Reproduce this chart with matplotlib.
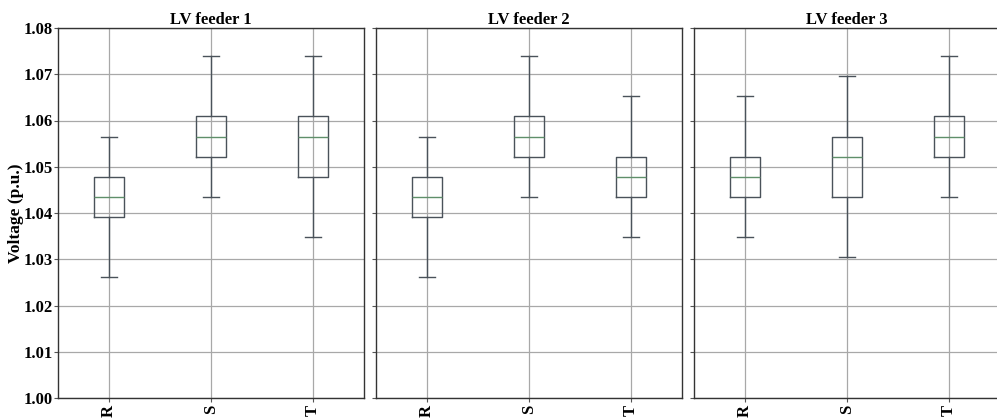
import matplotlib
matplotlib.use("Agg")
import matplotlib.pyplot as plt

plt.rcParams['font.family'] = ['Liberation Serif', 'DejaVu Serif']
plt.rcParams['font.weight'] = 'bold'

# Phase labels and per-feeder box statistics (p.u.)
phases = ["R", "S", "T"]
feeders = ["LV feeder 1", "LV feeder 2", "LV feeder 3"]

whis_low = [
    [1.0261, 1.0435, 1.0348],
    [1.0261, 1.0435, 1.0348],
    [1.0348, 1.03045, 1.0435],
]
q1 = [
    [1.03915, 1.0522, 1.0478],
    [1.03915, 1.0522, 1.0435],
    [1.0435, 1.0435, 1.0522],
]
median = [
    [1.0435, 1.0565, 1.0565],
    [1.0435, 1.0565, 1.0478],
    [1.0478, 1.0522, 1.0565],
]
q3 = [
    [1.0478, 1.0609, 1.0609],
    [1.0478, 1.0609, 1.0522],
    [1.0522, 1.0565, 1.0609],
]
whis_high = [
    [1.0565, 1.074, 1.074],
    [1.0565, 1.074, 1.06525],
    [1.06525, 1.0696, 1.074],
]

y_ticks = [1.00, 1.01, 1.02, 1.03, 1.04, 1.05, 1.06, 1.07, 1.08]

W, H = 997, 418
fig = plt.figure(figsize=(W / 100, H / 100), dpi=100)

lefts = [58, 376, 694]
ax_w = 306
bottom_px, top_px = 398, 28

box_color = "#4a525a"
med_color = "#5f8f6a"
grid_color = "#a8a8a8"

axes = []
for i, name in enumerate(feeders):
    ax = fig.add_axes([lefts[i] / W, 1 - bottom_px / H, ax_w / W, (bottom_px - top_px) / H])
    stats = []
    for j, ph in enumerate(phases):
        stats.append(dict(label=ph, whislo=whis_low[i][j], q1=q1[i][j], med=median[i][j],
                          q3=q3[i][j], whishi=whis_high[i][j], fliers=[]))
    ax.bxp(stats, positions=[1, 2, 3], widths=0.3, showfliers=False,
           boxprops=dict(color=box_color, linewidth=1.0),
           whiskerprops=dict(color=box_color, linewidth=1.0),
           capprops=dict(color=box_color, linewidth=1.0),
           medianprops=dict(color=med_color, linewidth=1.0))
    ax.set_xlim(0.5, 3.5)
    ax.set_ylim(1.00, 1.08)
    ax.set_yticks(y_ticks)
    ax.grid(True, color=grid_color, linewidth=0.9)
    ax.set_axisbelow(True)
    ax.set_xticks([1, 2, 3])
    ax.set_xticklabels(phases, rotation=90, fontsize=12, fontweight='bold')
    ax.set_title(name, fontsize=12, fontweight='bold', pad=3)
    for sp in ax.spines.values():
        sp.set_color("#333333")
        sp.set_linewidth(1.0)
    ax.tick_params(length=3, width=0.8, color="#555555", pad=2)
    ax.tick_params(axis='y', pad=1)
    if i == 0:
        ax.set_yticklabels([f"{v:.2f}" for v in y_ticks], fontsize=12, fontweight='bold')
        ax.set_ylabel("Voltage (p.u.)", fontsize=12.5, fontweight='bold')
        ax.yaxis.set_label_coords(-0.11, 0.5)
    else:
        ax.set_yticklabels([])
    axes.append(ax)

fig.savefig("out.png", dpi=100)
